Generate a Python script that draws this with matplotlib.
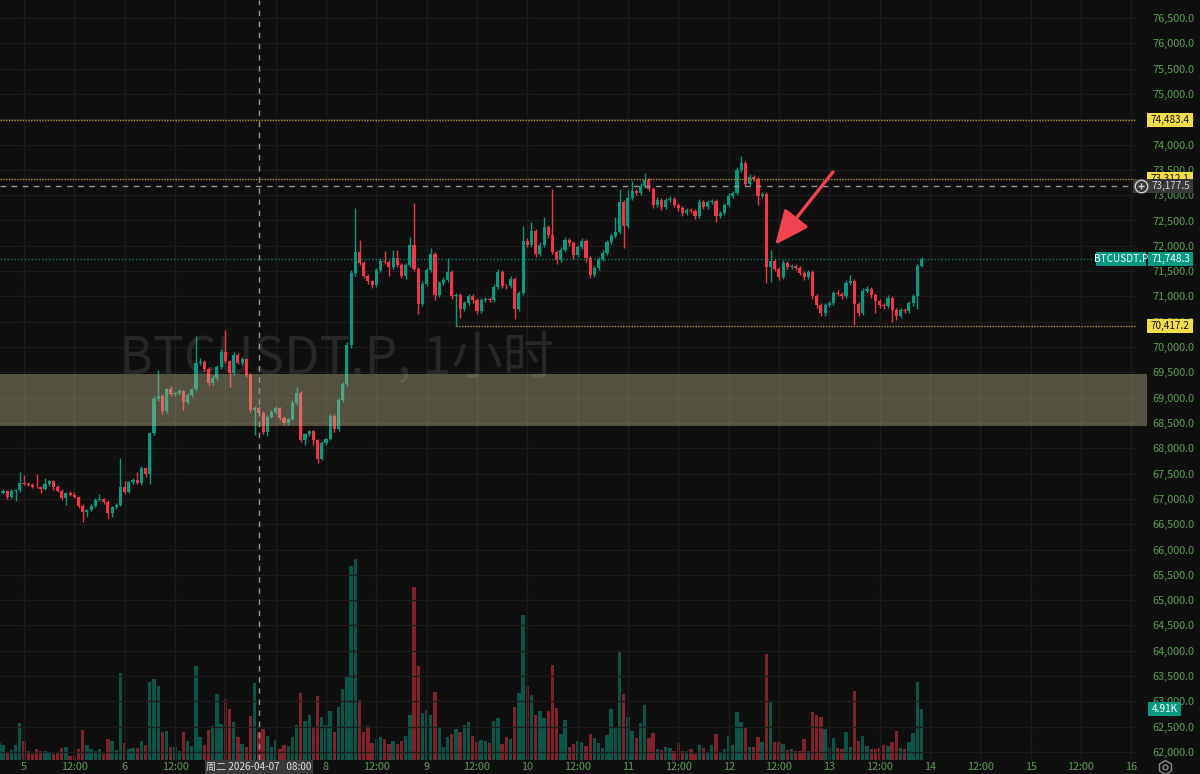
import numpy as np
import matplotlib.pyplot as plt
from matplotlib.patches import Rectangle
from matplotlib.lines import Line2D

plt.rcParams['font.family'] = ['Noto Sans CJK SC', 'DejaVu Sans']

# BTCUSDT.P 1h bars, bar 0 = 2026-04-04 18:00
first_open = 66940
closes = [
    67120, 67160, 67040, 67160, 67170, 67310, 67300, 67280, 67240, 67230,
    67200, 67300, 67350, 67240, 67160, 67020, 67120, 67080, 67040, 66860,
    66740, 66780, 66860, 66980, 67000, 66940, 66720, 66840, 66880, 67240,
    67140, 67330, 67370, 67310, 67610, 67490, 68300, 68970, 69030, 68740,
    69170, 69070, 69090, 69130, 68910, 69050, 69170, 69690, 69710, 69570,
    69290, 69390, 69610, 69900, 69720, 69490, 69840, 69690, 69760, 69450,
    68760, 68800, 68700, 68320, 68620, 68720, 68800, 68600, 68500, 68580,
    68900, 69090, 68160, 68280, 68340, 68160, 67790, 68110, 68180, 68640,
    68380, 68950, 69270, 70040, 71460, 71880, 71660, 71400, 71300, 71230,
    71520, 71700, 71680, 71580, 71760, 71620, 71400, 71620, 72020, 71540,
    70850, 71250, 71520, 71840, 71030, 71270, 71330, 71480, 71010, 71020,
    70750, 70870, 71010, 70930, 70710, 70930, 70950, 70930, 71190, 71480,
    71210, 71200, 71340, 70750, 71070, 72100, 72020, 72290, 71840, 72020,
    72370, 72210, 71880, 71720, 71920, 72120, 72060, 71820, 71980, 72100,
    71760, 71420, 71560, 71740, 71860, 72080, 72190, 72270, 72870, 72390,
    72950, 73080, 73040, 73180, 73300, 73120, 72810, 72910, 72770, 72910,
    72920, 72810, 72750, 72650, 72710, 72690, 72590, 72870, 72770, 72870,
    72880, 72590, 72650, 72810, 72980, 73040, 73500, 73640, 73220, 73360,
    73320, 72980, 73020, 71580, 71700, 71540, 71380, 71660, 71580, 71600,
    71560, 71460, 71380, 71480, 71010, 70830, 70670, 70830, 70870, 71070,
    71050, 71010, 71270, 71310, 70850, 70670, 71110, 71150, 71030, 70910,
    70830, 70820, 70970, 70730, 70610, 70730, 70720, 70870, 71010, 71600,
    71748.3,
]
up_wick = [
    40, 30, 20, 30, 30, 220, 160, 40, 30, 260, 20, 120, 30, 20, 30, 30, 20, 40, 60, 20,
    30, 20, 40, 30, 100, 20, 40, 20, 30, 570, 120, 30, 40, 160, 40, 30, 30, 60, 510, 40,
    30, 60, 30, 40, 30, 40, 30, 530, 80, 40, 40, 60, 30, 60, 430, 30, 60, 40, 40, 30,
    30, 40, 40, 30, 40, 40, 30, 20, 30, 20, 60, 120, 40, 30, 30, 30, 30, 40, 30, 40,
    40, 40, 30, 60, 60, 870, 240, 40, 40, 30, 40, 60, 200, 40, 160, 160, 40, 40, 160, 830,
    40, 60, 40, 120, 40, 40, 60, 280, 40, 40, 40, 40, 40, 30, 40, 40, 40, 30, 60, 60,
    40, 40, 60, 40, 40, 300, 60, 180, 40, 60, 200, 40, 910, 40, 60, 60, 40, 40, 40, 60,
    40, 40, 40, 40, 60, 40, 60, 300, 260, 40, 160, 200, 40, 60, 140, 40, 40, 60, 40, 40,
    60, 40, 40, 40, 40, 40, 30, 60, 40, 40, 40, 40, 40, 40, 60, 40, 60, 140, 40, 60,
    40, 40, 40, 40, 220, 40, 40, 60, 40, 40, 40, 40, 40, 40, 40, 40, 40, 40, 40, 40,
    60, 40, 60, 120, 40, 40, 60, 60, 40, 40, 40, 40, 60, 40, 40, 40, 40, 40, 40, 40, 40,
]
dn_wick = [
    20, 30, 40, 20, 200, 30, 20, 30, 30, 20, 80, 20, 40, 60, 20, 40, 140, 30, 30, 40,
    200, 100, 20, 20, 30, 40, 100, 80, 30, 20, 40, 20, 30, 20, 30, 60, 200, 30, 40, 60,
    40, 30, 30, 30, 160, 30, 40, 40, 40, 40, 60, 40, 40, 40, 40, 280, 40, 30, 40, 40,
    40, 490, 60, 40, 80, 20, 40, 40, 40, 40, 30, 40, 40, 100, 40, 100, 80, 30, 40, 20,
    60, 30, 40, 40, 60, 60, 40, 40, 60, 60, 40, 40, 30, 180, 40, 40, 40, 60, 40, 40,
    200, 40, 40, 40, 100, 40, 40, 40, 60, 593, 180, 40, 30, 60, 60, 40, 40, 40, 40, 40,
    40, 60, 40, 200, 40, 40, 40, 40, 60, 40, 40, 60, 40, 80, 40, 40, 60, 80, 40, 40,
    80, 60, 40, 40, 40, 40, 40, 40, 40, 430, 40, 40, 40, 40, 40, 40, 60, 40, 60, 40,
    40, 40, 60, 60, 40, 40, 60, 40, 40, 40, 40, 120, 40, 40, 40, 40, 40, 40, 40, 40,
    40, 180, 40, 320, 300, 40, 60, 40, 40, 40, 40, 40, 60, 40, 60, 60, 60, 60, 40, 40,
    40, 60, 40, 40, 420, 60, 40, 40, 60, 240, 60, 60, 40, 240, 80, 40, 40, 40, 60, 260, 20,
]
volume_k = [
    1.60, 1.44, 0.71, 0.96, 1.48, 3.53, 1.86, 0.90, 0.61, 1.03,
    0.90, 0.83, 0.77, 0.58, 0.64, 1.12, 1.28, 0.38, 0.38, 1.03,
    2.89, 1.48, 1.03, 0.83, 1.09, 0.61, 1.99, 1.83, 0.96, 8.34,
    1.67, 1.03, 1.12, 1.12, 1.86, 1.41, 7.48, 7.83, 7.12, 2.66,
    2.76, 1.28, 1.28, 0.90, 2.69, 1.80, 1.35, 9.02, 2.18, 1.41,
    2.89, 3.30, 6.32, 3.50, 5.87, 4.94, 3.69, 2.18, 1.54, 1.22,
    4.23, 7.41, 2.66, 2.98, 2.31, 1.22, 1.92, 1.09, 1.44, 1.35,
    2.25, 3.37, 6.45, 3.75, 4.36, 3.18, 6.13, 4.14, 3.37, 4.68,
    2.66, 5.10, 6.83, 8.08, 18.67, 19.35, 5.74, 2.73, 3.30, 1.64,
    2.05, 2.25, 2.05, 1.57, 1.80, 1.57, 1.86, 2.28, 4.36, 16.65,
    9.05, 4.56, 4.81, 4.36, 6.51, 3.05, 1.22, 2.25, 2.50, 2.98,
    2.66, 3.37, 3.63, 2.31, 1.70, 1.92, 1.86, 1.67, 3.75, 4.07,
    1.54, 2.18, 2.02, 5.13, 6.42, 13.96, 7.12, 6.26, 4.36, 4.72,
    4.01, 4.68, 9.11, 4.97, 2.50, 3.85, 1.28, 1.54, 1.86, 1.73,
    1.35, 2.50, 2.12, 1.64, 1.15, 2.37, 4.88, 3.08, 10.46, 6.32,
    4.14, 2.82, 2.12, 3.56, 5.29, 2.12, 2.57, 1.06, 0.99, 1.25,
    1.19, 0.87, 1.60, 0.87, 0.87, 1.03, 0.61, 1.44, 1.12, 0.64,
    1.44, 2.47, 0.80, 1.06, 2.31, 1.44, 4.59, 3.63, 3.08, 1.22,
    1.25, 2.25, 1.73, 10.20, 5.65, 1.73, 1.73, 1.51, 0.96, 1.06,
    0.87, 0.87, 2.05, 0.87, 4.59, 4.30, 4.14, 3.02, 1.25, 2.09,
    1.12, 1.06, 2.66, 1.25, 6.64, 1.86, 2.31, 1.32, 1.06, 1.03,
    1.12, 1.44, 1.35, 1.73, 2.76, 1.19, 1.03, 1.73, 2.57, 7.54,
    4.91,
]

day_labels = ['5', '6', '7', '8', '9', '10', '11', '12', '13', '14', '15', '16']
first_midnight = 6            # bar index of 04-05 00:00
zone = (68440, 69470)
yellow_levels = [74483.4, 73312.1]
support, support_from = 70417.2, 109
last_price = 71748.3
cross_bar, cross_price = 62, 73177.5
cross_text = '周二 2026-04-07   08:00'
arrow_tail = (198.9, 73460)
arrow_head = (185.1, 72020)

BG = '#0f0f0f'
UP = '#089981'
DN = '#f23645'
GRID = '#1c1c1c'
AXTXT = '#5c9e52'
YEL = '#f2dd4a'
FS = 7.8
TAG_FS = 7.2

closes = np.array(closes, float)
opens = np.r_[first_open, closes[:-1]]
top = np.maximum(opens, closes)
bot = np.minimum(opens, closes)
highs = top + np.array(up_wick)
lows = bot - np.array(dn_wick)
x = np.arange(len(closes))
rising = closes >= opens
colors = np.where(rising, UP, DN)

W, H = 1200, 774
plot_w, plot_h = 1136, 760
px_bar = 4.194
fig = plt.figure(figsize=(W / 100, H / 100), dpi=100, facecolor=BG)
rect = [0, 1 - plot_h / H, plot_w / W, plot_h / H]
axv = fig.add_axes(rect, facecolor=BG)
ax = fig.add_axes(rect)
ax.patch.set_visible(False)

xmin = first_midnight - 24 / px_bar
xmax = xmin + plot_w / px_bar
for a in (ax, axv):
    a.set_xlim(xmin, xmax)
    for s in a.spines.values():
        s.set_visible(False)
ax.set_ylim(61842, 76856)
axv.set_ylim(0, 73.15)
axv.set_xticks([])
axv.set_yticks([])

# volume
axv.bar(x, volume_k, width=0.8, color=colors, alpha=0.5, lw=0)

# axes, grid
xt = first_midnight + 12 * np.arange(23)
xl = [day_labels[i // 2] if i % 2 == 0 else '12:00' for i in range(23)]
# the crosshair date box hides the labels of day 7
xl[4] = xl[5] = ''
ax.set_xticks(xt, xl)
yt = np.arange(62000, 76501, 500)
ax.set_yticks(yt, [f'{v:,.1f}' for v in yt])
ax.yaxis.tick_right()
ax.tick_params(length=0, labelsize=FS, labelcolor=AXTXT)
ax.tick_params(axis='x', pad=1.5)
ax.tick_params(axis='y', pad=12)
ax.grid(True, color=GRID, lw=1, zorder=0)
ax.set_axisbelow(True)

# watermark
ax.text(337 / plot_w, 1 - 358 / plot_h, 'BTCUSDT.P, 1小时', transform=ax.transAxes,
        fontsize=37, color='#272727', ha='center', va='center', zorder=1)

# candles
ax.vlines(x, lows, highs, colors=colors, lw=1, zorder=3)
ax.bar(x, np.maximum(top - bot, 14), bottom=bot, width=0.74, color=colors, lw=0, zorder=4)

# zone
ax.axhspan(zone[0], zone[1], xmin=0, xmax=1147 / plot_w, color='#bdb68e', alpha=0.4,
           lw=0, zorder=5, clip_on=False)

# levels
for lv in yellow_levels:
    ax.axhline(lv, color='#a8962c', lw=1, ls=(0, (1, 1)), zorder=6)
ax.hlines(support, support_from, xmax, color='#a8962c', lw=1, ls=(0, (1, 1)), zorder=6)
ax.axhline(last_price, color=UP, lw=1, ls=(0, (1, 1.5)), alpha=0.8, zorder=6)
ax.axhline(cross_price, color='#959595', lw=1, ls=(0, (4, 4)), zorder=7)
ax.axvline(cross_bar, color='#959595', lw=1, ls=(0, (4, 4)), zorder=7)

ax.annotate('', xy=arrow_head, xytext=arrow_tail,
            arrowprops=dict(arrowstyle='-|>,head_length=0.95,head_width=0.42',
                            color='#f0434f', lw=2.4, mutation_scale=22,
                            shrinkA=0, shrinkB=0), zorder=8)


def py_of(a, v):
    return a.transData.transform((0, v))[1]


def tag(py, x0, x1, text, fc, tc, h=14):
    fig.add_artist(Rectangle((x0 / W, (py - h / 2) / H), (x1 - x0) / W, h / H,
                             transform=fig.transFigure, fc=fc, ec='none', zorder=20))
    fig.text((x0 + x1) / 2 / W, py / H, text, ha='center', va='center', color=tc,
             fontsize=TAG_FS, zorder=21)


for lv in yellow_levels + [support]:
    tag(py_of(ax, lv), 1147, 1193, f'{lv:,.1f}', YEL, '#141414')
tag(py_of(ax, cross_price), 1133, 1193, '', '#3a3a3a', '#d8d8d8')
fig.text(1171 / W, py_of(ax, cross_price) / H, f'{cross_price:,.1f}', ha='center',
         va='center', color='#d8d8d8', fontsize=TAG_FS, zorder=22)
cy = py_of(ax, cross_price) / H
fig.add_artist(Line2D([1141 / W], [cy], marker='o', ms=9, mfc='none', mec='#d0d0d0',
                      mew=1, transform=fig.transFigure, zorder=22))
fig.add_artist(Line2D([1141 / W], [cy], marker='+', ms=5, mec='#d0d0d0', mew=1,
                      transform=fig.transFigure, zorder=22))
tag(py_of(ax, last_price), 1096, 1146, 'BTCUSDT.P', UP, 'white')
tag(py_of(ax, last_price), 1148, 1193, f'{last_price:,.1f}', UP, 'white')
tag(py_of(axv, volume_k[-1]), 1148, 1181, f'{volume_k[-1]:.2f}K', UP, 'white')
tag(7, 205, 313, cross_text, '#3a3a3a', '#e0e0e0')

fig.add_artist(Line2D([1165 / W], [7 / H], marker='h', ms=10, mfc='none', mec='#8a8a8a',
                      mew=1, transform=fig.transFigure))
fig.add_artist(Line2D([1165 / W], [7 / H], marker='o', ms=3.5, mfc='none', mec='#8a8a8a',
                      mew=1, transform=fig.transFigure))

fig.savefig('out.png', dpi=100, facecolor=BG)
